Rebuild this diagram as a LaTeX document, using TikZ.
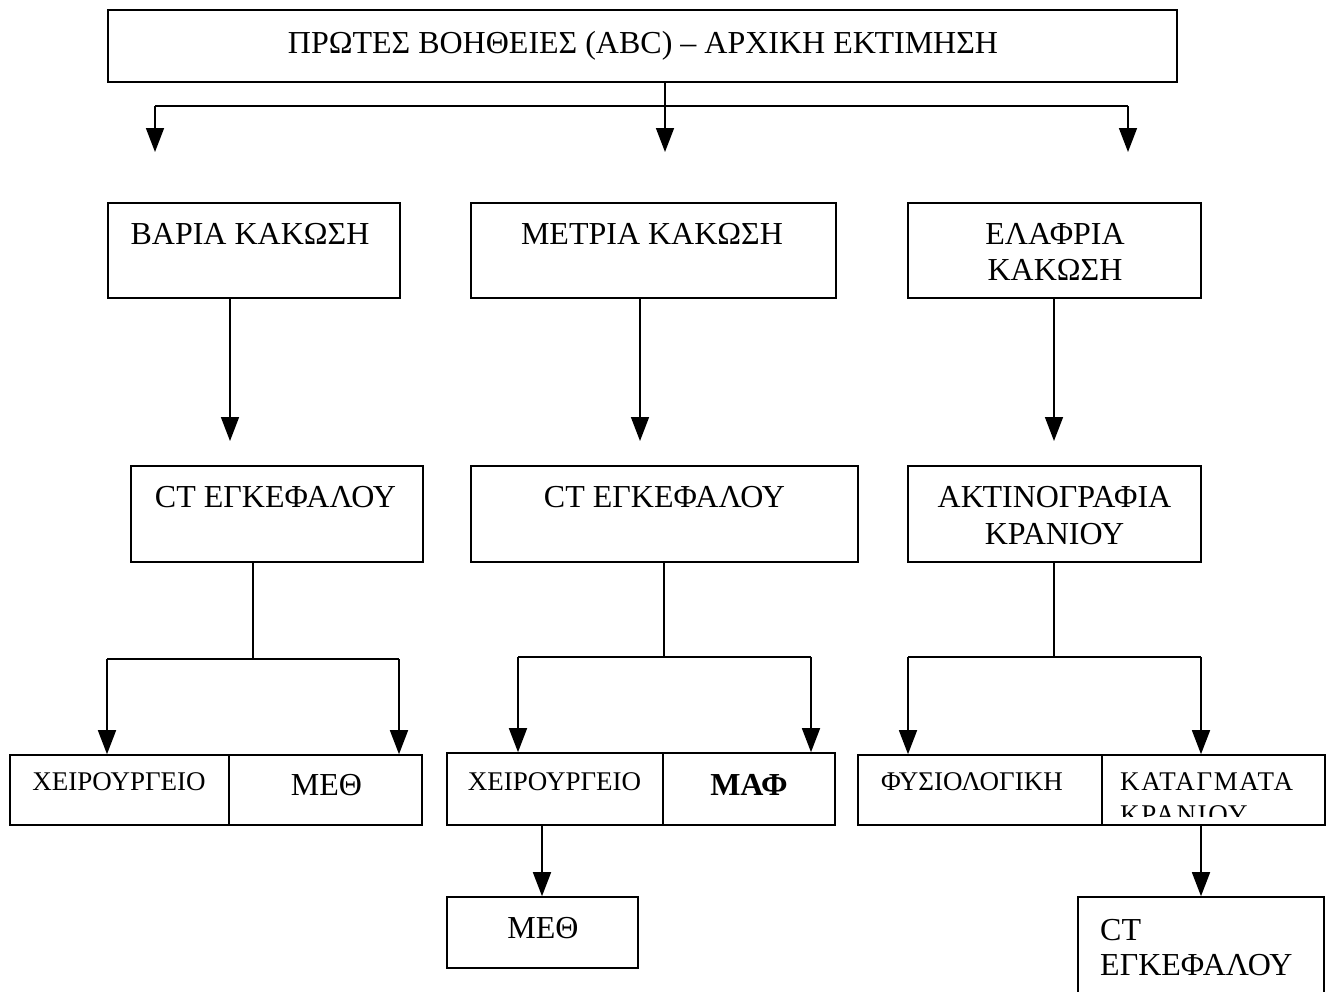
\documentclass[tikz,border=0pt]{standalone}
\usepackage{fontspec}
\setmainfont{Liberation Serif}
\newfontfamily\spacedfont[LetterSpace=6]{Liberation Serif}
\usetikzlibrary{arrows.meta,calc}
\begin{document}
\begin{tikzpicture}[x=1pt,y=-1pt,
  box/.style={draw, line width=1.6pt, inner sep=0pt, fill=white},
  txt/.style={font=\fontsize{32}{37}\selectfont, inner sep=0pt, anchor=base},
  stxt/.style={font=\fontsize{27}{32}\selectfont, inner sep=0pt, anchor=base},
  ktxt/.style={font=\spacedfont\fontsize{27}{32}\selectfont, inner sep=0pt, anchor=base west},
  ln/.style={line width=1.6pt},
  arr/.style={line width=1.6pt, -{Triangle[length=24pt,width=18pt]}}]
\useasboundingbox[fill=white] (0,0) rectangle (1331,991);

% boxes
\node[box, minimum width=1069pt, minimum height=72pt] (title) at (642.5,46) {};
\node[box, minimum width=292pt, minimum height=95pt] (bv) at (254,250.5) {};
\node[box, minimum width=365pt, minimum height=95pt] (mt) at (653.5,250.5) {};
\node[box, minimum width=293pt, minimum height=95pt] (el) at (1054.5,250.5) {};
\node[box, minimum width=292pt, minimum height=96pt] (ct1) at (277,514) {};
\node[box, minimum width=387pt, minimum height=96pt] (ct2) at (664.5,514) {};
\node[box, minimum width=293pt, minimum height=96pt] (ak) at (1054.5,514) {};
\node[box, minimum width=219pt, minimum height=70pt] (ls) at (119.5,790) {};
\node[box, minimum width=193pt, minimum height=70pt] (lm) at (325.5,790) {};
\node[box, minimum width=216pt, minimum height=72pt] (ms) at (555,789) {};
\node[box, minimum width=172pt, minimum height=72pt] (mm) at (749,789) {};
\node[box, minimum width=244pt, minimum height=70pt] (rs) at (980,790) {};
\node[box, minimum width=223pt, minimum height=70pt] (rk) at (1213.5,790) {};
\node[box, minimum width=191pt, minimum height=71pt] (bm) at (542.5,932.5) {};
\node[box, minimum width=246pt, minimum height=100pt] (bc) at (1201,947) {};

% texts
\node[txt] (titlet) at (643,53) {ΠΡΩΤΕΣ ΒΟΗΘΕΙΕΣ (ABC) – ΑΡΧΙΚΗ ΕΚΤΙΜΗΣΗ};
\node[txt] (bvt) at (250,244) {ΒΑΡΙΑ ΚΑΚΩΣΗ};
\node[txt] (mtt) at (652,244) {ΜΕΤΡΙΑ ΚΑΚΩΣΗ};
\node[txt] (elt1) at (1055,244) {ΕΛΑΦΡΙΑ};
\node[txt] (elt2) at (1055,280) {ΚΑΚΩΣΗ};
\node[txt] (ct1t) at (275.5,507) {CT ΕΓΚΕΦΑΛΟΥ};
\node[txt] (ct2t) at (664.5,507) {CT ΕΓΚΕΦΑΛΟΥ};
\node[txt] (akt1) at (1054.5,507) {ΑΚΤΙΝΟΓΡΑΦΙΑ};
\node[txt] (akt2) at (1054.5,544) {ΚΡΑΝΙΟΥ};
\node[stxt] (lst) at (119,790) {ΧΕΙΡΟΥΡΓΕΙΟ};
\node[txt] (lmt) at (326.5,795) {ΜΕΘ};
\node[stxt] (mst) at (554.5,790) {ΧΕΙΡΟΥΡΓΕΙΟ};
\node[txt, font=\fontsize{32}{37}\selectfont\bfseries] (mmt) at (749,795) {ΜΑΦ};
\node[stxt] (rst) at (972,790) {ΦΥΣΙΟΛΟΓΙΚΗ};
\node[ktxt] (rkt1) at (1120,790) {ΚΑΤΑΓΜΑΤΑ};
\begin{scope}
\clip (1103,795) rectangle (1324,816);
\node[ktxt] (rkt2) at (1120,823) {ΚΡΑΝΙΟΥ};
\end{scope}
\node[txt] (bmt) at (543,938) {ΜΕΘ};
\node[txt, anchor=base west] (bct1) at (1100,940) {CT};
\node[txt, anchor=base west] (bct2) at (1100,975) {ΕΓΚΕΦΑΛΟΥ};

% top distribution
\coordinate (j0) at (665,106);
\coordinate (h1) at (155,106);
\coordinate (h3) at (1128,106);
\coordinate (a1) at (155,152);
\coordinate (a2) at (665,152);
\coordinate (a3) at (1128,152);
\draw[ln] (title.south -| j0) -- (j0);
\draw[ln] (h1) -- (h3);
\draw[arr] (h1) -- (a1);
\draw[arr] (j0) -- (a2);
\draw[arr] (h3) -- (a3);

% level 1 -> 2
\coordinate (b1) at (230,441);
\coordinate (b2) at (640,441);
\coordinate (b3) at (1054,441);
\draw[arr] (bv.south -| b1) -- (b1);
\draw[arr] (mt.south -| b2) -- (b2);
\draw[arr] (el.south -| b3) -- (b3);

% level 2 -> 3 left
\coordinate (l0) at (253,659);
\coordinate (l1) at (107,659);
\coordinate (l2) at (399,659);
\draw[ln] (ct1.south -| l0) -- (l0);
\draw[ln] (l1) -- (l2);
\draw[arr] (l1) -- (ls.north -| l1);
\draw[arr] (l2) -- (lm.north -| l2);

% middle
\coordinate (m0) at (664,657);
\coordinate (m1) at (518,657);
\coordinate (m2) at (811,657);
\draw[ln] (ct2.south -| m0) -- (m0);
\draw[ln] (m1) -- (m2);
\draw[arr] (m1) -- (ms.north -| m1);
\draw[arr] (m2) -- (mm.north -| m2);

% right
\coordinate (r0) at (1054,657);
\coordinate (r1) at (908,657);
\coordinate (r2) at (1201,657);
\draw[ln] (ak.south -| r0) -- (r0);
\draw[ln] (r1) -- (r2);
\draw[arr] (r1) -- (rs.north -| r1);
\draw[arr] (r2) -- (rk.north -| r2);

% level 3 -> 4
\coordinate (d1) at (542,0);
\coordinate (d2) at (1201,0);
\draw[arr] (ms.south -| d1) -- (bm.north -| d1);
\draw[arr] (rk.south -| d2) -- (bc.north -| d2);
\end{tikzpicture}
\end{document}
